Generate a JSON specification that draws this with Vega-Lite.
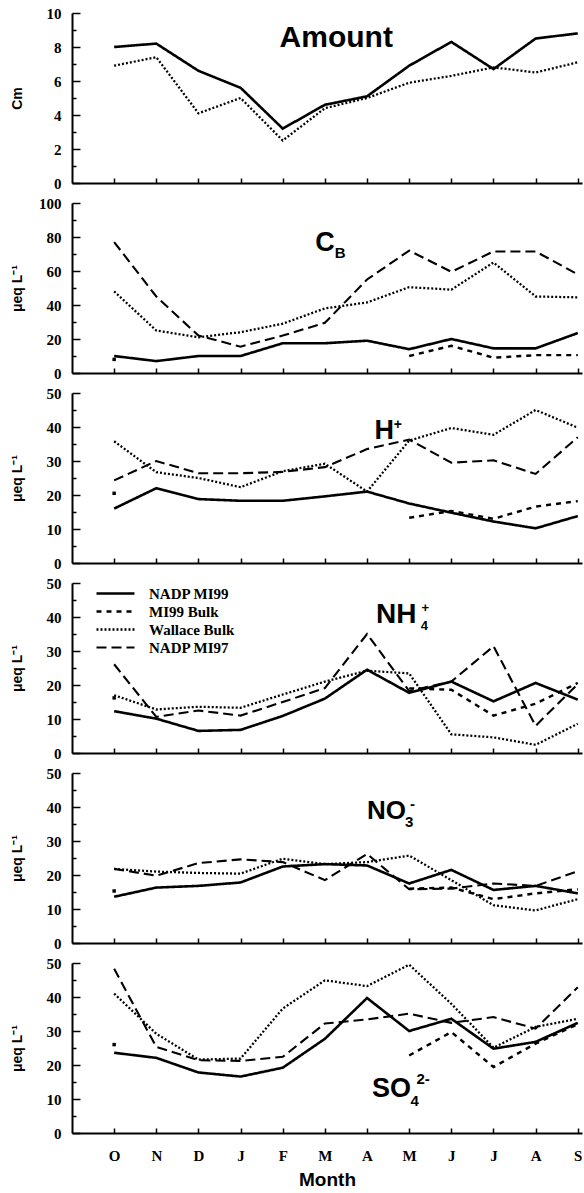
{
  "$schema": "https://vega.github.io/schema/vega-lite/v6.json",
  "background": "white",
  "padding": {"left": 10, "top": 6, "right": 0, "bottom": 2},
  "bounds": "flush",
  "spacing": 20,
  "config": {
    "view": {"stroke": null},
    "font": "Liberation Sans",
    "axis": {"domainColor": "black", "domainWidth": 2, "tickColor": "black", "tickWidth": 1.5, "grid": false, "labelOverlap": false, "labelFont": "Liberation Serif", "labelFontWeight": "bold", "labelFontSize": 15, "labelColor": "black", "titleFont": "Liberation Sans", "titleFontWeight": "bold", "titleColor": "black", "titleFontSize": 14},
    "axisX": {"tickSize": -5, "labelPadding": 20, "labelFlush": false, "labelAngle": 0},
    "axisY": {"tickSize": -8, "labelPadding": 19, "titlePadding": 8, "minExtent": 40, "maxExtent": 40}
  },
  "datasets": {
    "amount": [
      {"i": 0, "m": "O", "NADP MI99": 8.0, "Wallace Bulk": 6.9},
      {"i": 1, "m": "N", "NADP MI99": 8.2, "Wallace Bulk": 7.4},
      {"i": 2, "m": "D", "NADP MI99": 6.6, "Wallace Bulk": 4.1},
      {"i": 3, "m": "J", "NADP MI99": 5.6, "Wallace Bulk": 5.0},
      {"i": 4, "m": "F", "NADP MI99": 3.2, "Wallace Bulk": 2.5},
      {"i": 5, "m": "M", "NADP MI99": 4.6, "Wallace Bulk": 4.4},
      {"i": 6, "m": "A", "NADP MI99": 5.1, "Wallace Bulk": 5.0},
      {"i": 7, "m": "M", "NADP MI99": 6.9, "Wallace Bulk": 5.9},
      {"i": 8, "m": "J", "NADP MI99": 8.3, "Wallace Bulk": 6.3},
      {"i": 9, "m": "J", "NADP MI99": 6.7, "Wallace Bulk": 6.8},
      {"i": 10, "m": "A", "NADP MI99": 8.5, "Wallace Bulk": 6.5},
      {"i": 11, "m": "S", "NADP MI99": 8.8, "Wallace Bulk": 7.1}
    ],
    "cb": [
      {"i": 0, "m": "O", "NADP MI99": 10, "MI99 Bulk": 8, "Wallace Bulk": 48, "NADP MI97": 77},
      {"i": 1, "m": "N", "NADP MI99": 7, "MI99 Bulk": null, "Wallace Bulk": 25, "NADP MI97": 45},
      {"i": 2, "m": "D", "NADP MI99": 10, "MI99 Bulk": null, "Wallace Bulk": 21, "NADP MI97": 22},
      {"i": 3, "m": "J", "NADP MI99": 10, "MI99 Bulk": null, "Wallace Bulk": 24, "NADP MI97": 15.5},
      {"i": 4, "m": "F", "NADP MI99": 17.5, "MI99 Bulk": null, "Wallace Bulk": 29, "NADP MI97": 22},
      {"i": 5, "m": "M", "NADP MI99": 17.5, "MI99 Bulk": null, "Wallace Bulk": 38, "NADP MI97": 29.5},
      {"i": 6, "m": "A", "NADP MI99": 19, "MI99 Bulk": null, "Wallace Bulk": 41.5, "NADP MI97": 55},
      {"i": 7, "m": "M", "NADP MI99": 14, "MI99 Bulk": 10, "Wallace Bulk": 50.5, "NADP MI97": 72},
      {"i": 8, "m": "J", "NADP MI99": 20, "MI99 Bulk": 16, "Wallace Bulk": 49, "NADP MI97": 59.5},
      {"i": 9, "m": "J", "NADP MI99": 14.5, "MI99 Bulk": 9, "Wallace Bulk": 65, "NADP MI97": 71.5},
      {"i": 10, "m": "A", "NADP MI99": 14.5, "MI99 Bulk": 10.5, "Wallace Bulk": 45, "NADP MI97": 71.5},
      {"i": 11, "m": "S", "NADP MI99": 23.5, "MI99 Bulk": 10.5, "Wallace Bulk": 44.5, "NADP MI97": 58}
    ],
    "h": [
      {"i": 0, "m": "O", "NADP MI99": 16, "MI99 Bulk": 20.5, "Wallace Bulk": 35.8, "NADP MI97": 24.3},
      {"i": 1, "m": "N", "NADP MI99": 22, "MI99 Bulk": null, "Wallace Bulk": 26.7, "NADP MI97": 30},
      {"i": 2, "m": "D", "NADP MI99": 18.8, "MI99 Bulk": null, "Wallace Bulk": 25, "NADP MI97": 26.4},
      {"i": 3, "m": "J", "NADP MI99": 18.3, "MI99 Bulk": null, "Wallace Bulk": 22.3, "NADP MI97": 26.4},
      {"i": 4, "m": "F", "NADP MI99": 18.3, "MI99 Bulk": null, "Wallace Bulk": 27, "NADP MI97": 26.8},
      {"i": 5, "m": "M", "NADP MI99": 19.6, "MI99 Bulk": null, "Wallace Bulk": 29.2, "NADP MI97": 28.2},
      {"i": 6, "m": "A", "NADP MI99": 21, "MI99 Bulk": null, "Wallace Bulk": 21, "NADP MI97": 33.5},
      {"i": 7, "m": "M", "NADP MI99": 17.5, "MI99 Bulk": 13.3, "Wallace Bulk": 36, "NADP MI97": 36.3},
      {"i": 8, "m": "J", "NADP MI99": 14.8, "MI99 Bulk": 15.3, "Wallace Bulk": 39.7, "NADP MI97": 29.5},
      {"i": 9, "m": "J", "NADP MI99": 12.2, "MI99 Bulk": 13, "Wallace Bulk": 37.7, "NADP MI97": 30.2},
      {"i": 10, "m": "A", "NADP MI99": 10.2, "MI99 Bulk": 16.6, "Wallace Bulk": 45, "NADP MI97": 26.2},
      {"i": 11, "m": "S", "NADP MI99": 13.8, "MI99 Bulk": 18.2, "Wallace Bulk": 39.8, "NADP MI97": 37}
    ],
    "nh4": [
      {"i": 0, "m": "O", "NADP MI99": 12.3, "MI99 Bulk": 16.2, "Wallace Bulk": 17, "NADP MI97": 26.1},
      {"i": 1, "m": "N", "NADP MI99": 10.1, "MI99 Bulk": null, "Wallace Bulk": 12.8, "NADP MI97": 10.6},
      {"i": 2, "m": "D", "NADP MI99": 6.5, "MI99 Bulk": null, "Wallace Bulk": 13.6, "NADP MI97": 12.5},
      {"i": 3, "m": "J", "NADP MI99": 6.8, "MI99 Bulk": null, "Wallace Bulk": 13.3, "NADP MI97": 11},
      {"i": 4, "m": "F", "NADP MI99": 10.9, "MI99 Bulk": null, "Wallace Bulk": 17.2, "NADP MI97": 15},
      {"i": 5, "m": "M", "NADP MI99": 16, "MI99 Bulk": null, "Wallace Bulk": 21, "NADP MI97": 19.1},
      {"i": 6, "m": "A", "NADP MI99": 24.5, "MI99 Bulk": null, "Wallace Bulk": 24.2, "NADP MI97": 35},
      {"i": 7, "m": "M", "NADP MI99": 17.7, "MI99 Bulk": 19, "Wallace Bulk": 23.4, "NADP MI97": 18.2},
      {"i": 8, "m": "J", "NADP MI99": 21, "MI99 Bulk": 18.6, "Wallace Bulk": 5.5, "NADP MI97": 21},
      {"i": 9, "m": "J", "NADP MI99": 15.2, "MI99 Bulk": 11, "Wallace Bulk": 4.6, "NADP MI97": 31.4},
      {"i": 10, "m": "A", "NADP MI99": 20.6, "MI99 Bulk": 14.5, "Wallace Bulk": 2.4, "NADP MI97": 8},
      {"i": 11, "m": "S", "NADP MI99": 15.7, "MI99 Bulk": 20.6, "Wallace Bulk": 8.6, "NADP MI97": 20.3}
    ],
    "no3": [
      {"i": 0, "m": "O", "NADP MI99": 13.6, "MI99 Bulk": 15.3, "Wallace Bulk": 21.8, "NADP MI97": 21.8},
      {"i": 1, "m": "N", "NADP MI99": 16.3, "MI99 Bulk": null, "Wallace Bulk": 21, "NADP MI97": 19.8},
      {"i": 2, "m": "D", "NADP MI99": 16.8, "MI99 Bulk": null, "Wallace Bulk": 20.6, "NADP MI97": 23.5},
      {"i": 3, "m": "J", "NADP MI99": 17.8, "MI99 Bulk": null, "Wallace Bulk": 20.4, "NADP MI97": 24.6},
      {"i": 4, "m": "F", "NADP MI99": 22.5, "MI99 Bulk": null, "Wallace Bulk": 24.8, "NADP MI97": 23.8},
      {"i": 5, "m": "M", "NADP MI99": 23.2, "MI99 Bulk": null, "Wallace Bulk": 23.2, "NADP MI97": 18.5},
      {"i": 6, "m": "A", "NADP MI99": 22.8, "MI99 Bulk": null, "Wallace Bulk": 23.8, "NADP MI97": 26.2},
      {"i": 7, "m": "M", "NADP MI99": 17.5, "MI99 Bulk": 16, "Wallace Bulk": 25.7, "NADP MI97": 15.8},
      {"i": 8, "m": "J", "NADP MI99": 21.5, "MI99 Bulk": 16.3, "Wallace Bulk": 18.5, "NADP MI97": 16},
      {"i": 9, "m": "J", "NADP MI99": 15.6, "MI99 Bulk": 12.9, "Wallace Bulk": 11.1, "NADP MI97": 17.5},
      {"i": 10, "m": "A", "NADP MI99": 16.8, "MI99 Bulk": 14.6, "Wallace Bulk": 9.6, "NADP MI97": 16.8},
      {"i": 11, "m": "S", "NADP MI99": 14.6, "MI99 Bulk": 15.8, "Wallace Bulk": 12.9, "NADP MI97": 21.1}
    ],
    "so4": [
      {"i": 0, "m": "O", "NADP MI99": 23.6, "MI99 Bulk": 26, "Wallace Bulk": 41, "NADP MI97": 48.3},
      {"i": 1, "m": "N", "NADP MI99": 22.1, "MI99 Bulk": null, "Wallace Bulk": 29.2, "NADP MI97": 25.3},
      {"i": 2, "m": "D", "NADP MI99": 17.8, "MI99 Bulk": null, "Wallace Bulk": 21.6, "NADP MI97": 21.4},
      {"i": 3, "m": "J", "NADP MI99": 16.6, "MI99 Bulk": null, "Wallace Bulk": 21.9, "NADP MI97": 21.2},
      {"i": 4, "m": "F", "NADP MI99": 19.2, "MI99 Bulk": null, "Wallace Bulk": 36.6, "NADP MI97": 22.4},
      {"i": 5, "m": "M", "NADP MI99": 27.7, "MI99 Bulk": null, "Wallace Bulk": 44.9, "NADP MI97": 32.2},
      {"i": 6, "m": "A", "NADP MI99": 39.7, "MI99 Bulk": null, "Wallace Bulk": 43.2, "NADP MI97": 33.4},
      {"i": 7, "m": "M", "NADP MI99": 30, "MI99 Bulk": 22.8, "Wallace Bulk": 49.5, "NADP MI97": 35.1},
      {"i": 8, "m": "J", "NADP MI99": 33.6, "MI99 Bulk": 29.7, "Wallace Bulk": 38, "NADP MI97": 32.4},
      {"i": 9, "m": "J", "NADP MI99": 24.8, "MI99 Bulk": 19.4, "Wallace Bulk": 25.1, "NADP MI97": 34.1},
      {"i": 10, "m": "A", "NADP MI99": 26.8, "MI99 Bulk": 26.3, "Wallace Bulk": 31.2, "NADP MI97": 30.7},
      {"i": 11, "m": "S", "NADP MI99": 32.4, "MI99 Bulk": 32, "Wallace Bulk": 33.6, "NADP MI97": 42.9}
    ]
  },
  "vconcat": [
    {
      "width": 510, "height": 170,
      "resolve": {"axis": {"y": "independent"}},
      "layer": [
        {
          "data": {"name": "amount"},
          "transform": [{"fold": ["NADP MI99", "Wallace Bulk"], "as": ["series", "value"]}],
          "mark": {"type": "line", "invalid": "break-paths-filter-domains", "color": "black"},
          "encoding": {
            "x": {"field": "i", "type": "quantitative", "scale": {"domain": [-1, 11.1], "nice": false, "zero": false}, "axis": {"values": [0,1,2,3,4,5,6,7,8,9,10,11], "labels": false, "title": null}},
            "y": {"field": "value", "type": "quantitative", "scale": {"domain": [0, 10], "nice": false}, "axis": {"title": "Cm", "values": [0,2,4,6,8,10]}},
            "strokeDash": {"field": "series", "type": "nominal", "scale": {"domain": ["NADP MI99", "MI99 Bulk", "Wallace Bulk", "NADP MI97"], "range": [[1,0],[5,5],[2,2],[10,5]]}, "legend": null},
            "strokeWidth": {"field": "series", "type": "nominal", "scale": {"domain": ["NADP MI99", "MI99 Bulk", "Wallace Bulk", "NADP MI97"], "range": [2.6, 2.1, 1.6, 2.2]}, "legend": null}
          }
        },
        {
          "data": {"values": [{"i": 5.27, "v": 8.0, "t": "Amount"}]},
          "mark": {"type": "text", "font": "Liberation Sans", "fontWeight": "bold", "fontSize": 30, "align": "center", "baseline": "alphabetic", "color": "black"},
          "encoding": {
            "x": {"field": "i", "type": "quantitative"},
            "y": {"field": "v", "type": "quantitative", "axis": {"values": [1,3,5,7,9], "labels": false, "domain": false, "title": null, "tickSize": -4, "orient": "left"}},
            "text": {"field": "t"}
          }
        }
      ]
    },
    {
      "width": 510, "height": 170,
      "resolve": {"axis": {"y": "independent"}},
      "layer": [
        {
          "data": {"name": "cb"},
          "transform": [{"fold": ["NADP MI99", "MI99 Bulk", "Wallace Bulk", "NADP MI97"], "as": ["series", "value"]}],
          "mark": {"type": "line", "invalid": "break-paths-filter-domains", "color": "black"},
          "encoding": {
            "x": {"field": "i", "type": "quantitative", "scale": {"domain": [-1, 11.1], "nice": false, "zero": false}, "axis": {"values": [0,1,2,3,4,5,6,7,8,9,10,11], "labels": false, "title": null}},
            "y": {"field": "value", "type": "quantitative", "scale": {"domain": [0, 100], "nice": false}, "axis": {"title": "μeq L⁻¹", "values": [0,20,40,60,80,100]}},
            "strokeDash": {"field": "series", "type": "nominal", "scale": {"domain": ["NADP MI99", "MI99 Bulk", "Wallace Bulk", "NADP MI97"], "range": [[1,0],[5,5],[2,2],[10,5]]}, "legend": null},
            "strokeWidth": {"field": "series", "type": "nominal", "scale": {"domain": ["NADP MI99", "MI99 Bulk", "Wallace Bulk", "NADP MI97"], "range": [2.6, 2.1, 1.6, 2.2]}, "legend": null}
          }
        },
        {
          "data": {"name": "cb"},
          "transform": [{"filter": "datum.i === 0"}],
          "mark": {"type": "square", "size": 12, "color": "black", "opacity": 1},
          "encoding": {
            "x": {"field": "i", "type": "quantitative"},
            "y": {"field": "MI99 Bulk", "type": "quantitative", "axis": null}
          }
        },
        {
          "data": {"values": [{"i": 5.0, "v": 72, "t": "C"}]},
          "mark": {"type": "text", "font": "Liberation Sans", "fontWeight": "bold", "fontSize": 27, "align": "center", "baseline": "alphabetic", "color": "black"},
          "encoding": {
            "x": {"field": "i", "type": "quantitative"},
            "y": {"field": "v", "type": "quantitative", "axis": {"values": [10,30,50,70,90], "labels": false, "domain": false, "title": null, "tickSize": -4, "orient": "left"}},
            "text": {"field": "t"}
          }
        },
        {
          "data": {"values": [{"i": 5.36, "v": 67.8, "t": "B"}]},
          "mark": {"type": "text", "font": "Liberation Sans", "fontWeight": "bold", "fontSize": 15, "align": "center", "baseline": "alphabetic", "color": "black"},
          "encoding": {
            "x": {"field": "i", "type": "quantitative"},
            "y": {"field": "v", "type": "quantitative", "axis": null},
            "text": {"field": "t"}
          }
        }
      ]
    },
    {
      "width": 510, "height": 170,
      "resolve": {"axis": {"y": "independent"}},
      "layer": [
        {
          "data": {"name": "h"},
          "transform": [{"fold": ["NADP MI99", "MI99 Bulk", "Wallace Bulk", "NADP MI97"], "as": ["series", "value"]}],
          "mark": {"type": "line", "invalid": "break-paths-filter-domains", "color": "black"},
          "encoding": {
            "x": {"field": "i", "type": "quantitative", "scale": {"domain": [-1, 11.1], "nice": false, "zero": false}, "axis": {"values": [0,1,2,3,4,5,6,7,8,9,10,11], "labels": false, "title": null}},
            "y": {"field": "value", "type": "quantitative", "scale": {"domain": [0, 50], "nice": false}, "axis": {"title": "μeq L⁻¹", "values": [0,10,20,30,40,50]}},
            "strokeDash": {"field": "series", "type": "nominal", "scale": {"domain": ["NADP MI99", "MI99 Bulk", "Wallace Bulk", "NADP MI97"], "range": [[1,0],[5,5],[2,2],[10,5]]}, "legend": null},
            "strokeWidth": {"field": "series", "type": "nominal", "scale": {"domain": ["NADP MI99", "MI99 Bulk", "Wallace Bulk", "NADP MI97"], "range": [2.6, 2.1, 1.6, 2.2]}, "legend": null}
          }
        },
        {
          "data": {"name": "h"},
          "transform": [{"filter": "datum.i === 0"}],
          "mark": {"type": "square", "size": 12, "color": "black", "opacity": 1},
          "encoding": {
            "x": {"field": "i", "type": "quantitative"},
            "y": {"field": "MI99 Bulk", "type": "quantitative", "axis": null}
          }
        },
        {
          "data": {"values": [{"i": 6.41, "v": 36.5, "t": "H"}]},
          "mark": {"type": "text", "font": "Liberation Sans", "fontWeight": "bold", "fontSize": 27, "align": "center", "baseline": "alphabetic", "color": "black"},
          "encoding": {
            "x": {"field": "i", "type": "quantitative"},
            "y": {"field": "v", "type": "quantitative", "axis": {"values": [5,15,25,35,45], "labels": false, "domain": false, "title": null, "tickSize": -4, "orient": "left"}},
            "text": {"field": "t"}
          }
        },
        {
          "data": {"values": [{"i": 6.73, "v": 39.5, "t": "+"}]},
          "mark": {"type": "text", "font": "Liberation Sans", "fontWeight": "bold", "fontSize": 14, "align": "center", "baseline": "alphabetic", "color": "black"},
          "encoding": {
            "x": {"field": "i", "type": "quantitative"},
            "y": {"field": "v", "type": "quantitative", "axis": null},
            "text": {"field": "t"}
          }
        }
      ]
    },
    {
      "width": 510, "height": 170,
      "resolve": {"axis": {"y": "independent"}},
      "layer": [
        {
          "data": {"name": "nh4"},
          "transform": [{"fold": ["NADP MI99", "MI99 Bulk", "Wallace Bulk", "NADP MI97"], "as": ["series", "value"]}],
          "mark": {"type": "line", "invalid": "break-paths-filter-domains", "color": "black"},
          "encoding": {
            "x": {"field": "i", "type": "quantitative", "scale": {"domain": [-1, 11.1], "nice": false, "zero": false}, "axis": {"values": [0,1,2,3,4,5,6,7,8,9,10,11], "labels": false, "title": null}},
            "y": {"field": "value", "type": "quantitative", "scale": {"domain": [0, 50], "nice": false}, "axis": {"title": "μeq L⁻¹", "values": [0,10,20,30,40,50]}},
            "strokeDash": {"field": "series", "type": "nominal", "scale": {"domain": ["NADP MI99", "MI99 Bulk", "Wallace Bulk", "NADP MI97"], "range": [[1,0],[5,5],[2,2],[10,5]]}, "legend": {"title": null, "orient": "none", "legendX": 36, "legendY": 3, "symbolType": "M-3.8,0H3.8", "symbolSize": 100, "symbolStrokeColor": "black", "symbolFillColor": "transparent", "labelFont": "Liberation Serif", "labelFontWeight": "bold", "labelFontSize": 15, "labelColor": "black", "rowPadding": 2, "labelOffset": 26, "padding": 0}},
            "strokeWidth": {"field": "series", "type": "nominal", "scale": {"domain": ["NADP MI99", "MI99 Bulk", "Wallace Bulk", "NADP MI97"], "range": [2.6, 2.1, 1.6, 2.2]}, "legend": {"title": null, "orient": "none", "legendX": 36, "legendY": 3, "symbolType": "M-3.8,0H3.8", "symbolSize": 100, "symbolStrokeColor": "black", "symbolFillColor": "transparent", "labelFont": "Liberation Serif", "labelFontWeight": "bold", "labelFontSize": 15, "labelColor": "black", "rowPadding": 2, "labelOffset": 26, "padding": 0}}
          }
        },
        {
          "data": {"name": "nh4"},
          "transform": [{"filter": "datum.i === 0"}],
          "mark": {"type": "square", "size": 12, "color": "black", "opacity": 1},
          "encoding": {
            "x": {"field": "i", "type": "quantitative"},
            "y": {"field": "MI99 Bulk", "type": "quantitative", "axis": null}
          }
        },
        {
          "data": {"values": [{"i": 6.69, "v": 38.1, "t": "NH"}]},
          "mark": {"type": "text", "font": "Liberation Sans", "fontWeight": "bold", "fontSize": 28, "align": "center", "baseline": "alphabetic", "color": "black"},
          "encoding": {
            "x": {"field": "i", "type": "quantitative"},
            "y": {"field": "v", "type": "quantitative", "axis": {"values": [5,15,25,35,45], "labels": false, "domain": false, "title": null, "tickSize": -4, "orient": "left"}},
            "text": {"field": "t"}
          }
        },
        {
          "data": {"values": [{"i": 7.36, "v": 36.2, "t": "4"}, {"i": 7.38, "v": 41.6, "t": "+"}]},
          "mark": {"type": "text", "font": "Liberation Sans", "fontWeight": "bold", "fontSize": 13, "align": "center", "baseline": "alphabetic", "color": "black"},
          "encoding": {
            "x": {"field": "i", "type": "quantitative"},
            "y": {"field": "v", "type": "quantitative", "axis": null},
            "text": {"field": "t"}
          }
        }
      ]
    },
    {
      "width": 510, "height": 170,
      "resolve": {"axis": {"y": "independent"}},
      "layer": [
        {
          "data": {"name": "no3"},
          "transform": [{"fold": ["NADP MI99", "MI99 Bulk", "Wallace Bulk", "NADP MI97"], "as": ["series", "value"]}],
          "mark": {"type": "line", "invalid": "break-paths-filter-domains", "color": "black"},
          "encoding": {
            "x": {"field": "i", "type": "quantitative", "scale": {"domain": [-1, 11.1], "nice": false, "zero": false}, "axis": {"values": [0,1,2,3,4,5,6,7,8,9,10,11], "labels": false, "title": null}},
            "y": {"field": "value", "type": "quantitative", "scale": {"domain": [0, 50], "nice": false}, "axis": {"title": "μeq L⁻¹", "values": [0,10,20,30,40,50]}},
            "strokeDash": {"field": "series", "type": "nominal", "scale": {"domain": ["NADP MI99", "MI99 Bulk", "Wallace Bulk", "NADP MI97"], "range": [[1,0],[5,5],[2,2],[10,5]]}, "legend": null},
            "strokeWidth": {"field": "series", "type": "nominal", "scale": {"domain": ["NADP MI99", "MI99 Bulk", "Wallace Bulk", "NADP MI97"], "range": [2.6, 2.1, 1.6, 2.2]}, "legend": null}
          }
        },
        {
          "data": {"name": "no3"},
          "transform": [{"filter": "datum.i === 0"}],
          "mark": {"type": "square", "size": 12, "color": "black", "opacity": 1},
          "encoding": {
            "x": {"field": "i", "type": "quantitative"},
            "y": {"field": "MI99 Bulk", "type": "quantitative", "axis": null}
          }
        },
        {
          "data": {"values": [{"i": 6.46, "v": 36.4, "t": "NO"}]},
          "mark": {"type": "text", "font": "Liberation Sans", "fontWeight": "bold", "fontSize": 26, "align": "center", "baseline": "alphabetic", "color": "black"},
          "encoding": {
            "x": {"field": "i", "type": "quantitative"},
            "y": {"field": "v", "type": "quantitative", "axis": {"values": [5,15,25,35,45], "labels": false, "domain": false, "title": null, "tickSize": -4, "orient": "left"}},
            "text": {"field": "t"}
          }
        },
        {
          "data": {"values": [{"i": 7.0, "v": 34.1, "t": "3"}, {"i": 7.08, "v": 39.5, "t": "-"}]},
          "mark": {"type": "text", "font": "Liberation Sans", "fontWeight": "bold", "fontSize": 15, "align": "center", "baseline": "alphabetic", "color": "black"},
          "encoding": {
            "x": {"field": "i", "type": "quantitative"},
            "y": {"field": "v", "type": "quantitative", "axis": null},
            "text": {"field": "t"}
          }
        }
      ]
    },
    {
      "width": 510, "height": 170,
      "resolve": {"axis": {"y": "independent"}},
      "layer": [
        {
          "data": {"name": "so4"},
          "transform": [{"fold": ["NADP MI99", "MI99 Bulk", "Wallace Bulk", "NADP MI97"], "as": ["series", "value"]}],
          "mark": {"type": "line", "invalid": "break-paths-filter-domains", "color": "black"},
          "encoding": {
            "x": {"field": "i", "type": "quantitative", "scale": {"domain": [-1, 11.1], "nice": false, "zero": false}, "axis": {"values": [0,1,2,3,4,5,6,7,8,9,10,11], "labelExpr": "['O','N','D','J','F','M','A','M','J','J','A','S'][datum.value]", "title": "Month", "titleFontSize": 19, "titlePadding": 7}},
            "y": {"field": "value", "type": "quantitative", "scale": {"domain": [0, 50], "nice": false}, "axis": {"title": "μeq L⁻¹", "values": [0,10,20,30,40,50]}},
            "strokeDash": {"field": "series", "type": "nominal", "scale": {"domain": ["NADP MI99", "MI99 Bulk", "Wallace Bulk", "NADP MI97"], "range": [[1,0],[5,5],[2,2],[10,5]]}, "legend": null},
            "strokeWidth": {"field": "series", "type": "nominal", "scale": {"domain": ["NADP MI99", "MI99 Bulk", "Wallace Bulk", "NADP MI97"], "range": [2.6, 2.1, 1.6, 2.2]}, "legend": null}
          }
        },
        {
          "data": {"name": "so4"},
          "transform": [{"filter": "datum.i === 0"}],
          "mark": {"type": "square", "size": 12, "color": "black", "opacity": 1},
          "encoding": {
            "x": {"field": "i", "type": "quantitative"},
            "y": {"field": "MI99 Bulk", "type": "quantitative", "axis": null}
          }
        },
        {
          "data": {"values": [{"i": 6.58, "v": 10.7, "t": "SO"}]},
          "mark": {"type": "text", "font": "Liberation Sans", "fontWeight": "bold", "fontSize": 27, "align": "center", "baseline": "alphabetic", "color": "black"},
          "encoding": {
            "x": {"field": "i", "type": "quantitative"},
            "y": {"field": "v", "type": "quantitative", "axis": {"values": [5,15,25,35,45], "labels": false, "domain": false, "title": null, "tickSize": -4, "orient": "left"}},
            "text": {"field": "t"}
          }
        },
        {
          "data": {"values": [{"i": 7.13, "v": 7.8, "t": "4"}, {"i": 7.33, "v": 14.5, "t": "2-"}]},
          "mark": {"type": "text", "font": "Liberation Sans", "fontWeight": "bold", "fontSize": 15, "align": "center", "baseline": "alphabetic", "color": "black"},
          "encoding": {
            "x": {"field": "i", "type": "quantitative"},
            "y": {"field": "v", "type": "quantitative", "axis": null},
            "text": {"field": "t"}
          }
        }
      ]
    }
  ],
  "resolve": {
    "scale": {"y": "independent", "strokeDash": "independent", "strokeWidth": "independent"},
    "legend": {"strokeDash": "independent", "strokeWidth": "independent"}
  }
}
